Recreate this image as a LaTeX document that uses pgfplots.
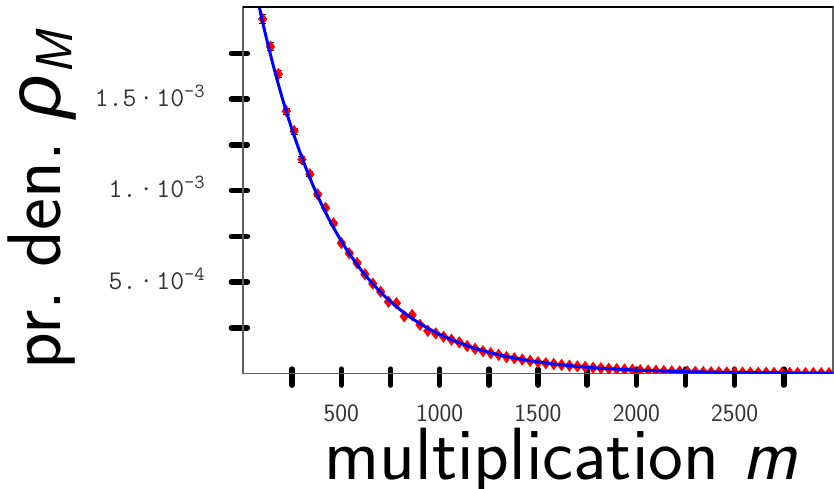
\documentclass[border=0pt]{standalone}
\usepackage{fontspec}
\newfontfamily\greekfont{Liberation Sans}
\usepackage{pgfplots}
\usepackage{pgfplotstable}
\pgfplotsset{compat=1.18}

% measured points (m, density)
\pgfplotstableread{
m rho
100 1.937e-3
140 1.786e-3
180 1.637e-3
220 1.434e-3
260 1.325e-3
300 1.170e-3
340 1.089e-3
380 0.979e-3
420 0.905e-3
460 0.821e-3
500 0.713e-3
540 0.657e-3
580 0.604e-3
620 0.543e-3
660 0.491e-3
700 0.447e-3
740 0.392e-3
780 0.384e-3
820 0.312e-3
860 0.320e-3
900 0.266e-3
940 0.233e-3
980 0.219e-3
1020 0.201e-3
1060 0.185e-3
1100 0.170e-3
1140 0.150e-3
1180 0.135e-3
1220 0.122e-3
1260 0.111e-3
1300 0.102e-3
1340 0.090e-3
1380 0.083e-3
1420 0.076e-3
1460 0.069e-3
1500 0.062e-3
1540 0.056e-3
1580 0.052e-3
1620 0.047e-3
1660 0.043e-3
1700 0.039e-3
1740 0.036e-3
1780 0.032e-3
1820 0.029e-3
1860 0.026e-3
1900 0.024e-3
1940 0.022e-3
1980 0.020e-3
2020 0.018e-3
2060 0.016e-3
2100 0.015e-3
2140 0.013e-3
2180 0.012e-3
2220 0.011e-3
2260 0.010e-3
2300 0.009e-3
2340 0.008e-3
2380 0.007e-3
2420 0.007e-3
2460 0.006e-3
2500 0.006e-3
2540 0.005e-3
2580 0.005e-3
2620 0.004e-3
2660 0.004e-3
2700 0.003e-3
2740 0.003e-3
2780 0.003e-3
2820 0.003e-3
2860 0.002e-3
2900 0.002e-3
2940 0.002e-3
2980 0.002e-3
}\points

% fitted curve
\pgfplotstableread{
m rho
50 2.1687e-3
100 1.9197e-3
150 1.6993e-3
200 1.5042e-3
250 1.3315e-3
300 1.1787e-3
350 1.0433e-3
400 0.9236e-3
450 0.8175e-3
500 0.7237e-3
550 0.6406e-3
600 0.5670e-3
650 0.5019e-3
700 0.4443e-3
750 0.3933e-3
800 0.3481e-3
850 0.3082e-3
900 0.2728e-3
950 0.2415e-3
1000 0.2137e-3
1100 0.1675e-3
1200 0.1312e-3
1300 0.1028e-3
1400 0.0806e-3
1500 0.0631e-3
1600 0.0495e-3
1700 0.0388e-3
1800 0.0304e-3
1900 0.0238e-3
2000 0.0186e-3
2200 0.0114e-3
2400 0.0070e-3
2600 0.0043e-3
2800 0.0026e-3
3000 0.0016e-3
}\fit

\newcommand{\sci}[2]{#1\hspace{3bp}·\hspace{3bp}10\raisebox{8.8bp}{\fontsize{20bp}{20bp}\selectfont #2}}

\begin{document}
\begin{tikzpicture}
\path[use as bounding box] (-243bp,-115.5bp) rectangle (591bp,373.5bp);
\begin{axis}[at={(0,0)},anchor=south west,scale only axis,width=590bp,height=366.5bp,
  xmin=0,xmax=3000,ymin=0,ymax=2.003e-3,
  axis line style={gray!75!black,line width=1.1bp},
  tick align=center,major tick length=16bp,
  every tick/.style={black,line width=5.5bp,line cap=round},
  xtick style={yshift=-3.6bp},ytick style={xshift=-3.6bp},
  xtick pos=lower,ytick pos=left,
  xtick={250,500,750,1000,1250,1500,1750,2000,2250,2500,2750},
  xticklabels={,500,,1000,,1500,,2000,,2500,},
  ytick={0.00025,0.0005,0.00075,0.001,0.00125,0.0015,0.00175},
  yticklabels={,\sci{5.}{-4},,\sci{1.}{-3},,\sci{1.5}{-3},},
  scaled y ticks=false,
  xticklabel style={font=\sffamily\fontsize{25bp}{25bp}\selectfont,anchor=base,inner sep=0pt,text=black!80},
  yticklabel style={font=\ttfamily\fontsize{27bp}{27bp}\selectfont,anchor=base east,inner sep=0pt,yshift=-7bp,text=black!80},
  xticklabel shift=39.5bp,yticklabel shift=30bp,
  xlabel={multiplication \textit{m}},
  ylabel={pr.~den.~{\greekfont\itshape ρ}\raisebox{-12bp}{\fontsize{52bp}{52bp}\selectfont\itshape M}},
  xlabel style={font=\sffamily\fontsize{74bp}{74bp}\selectfont,at={(axis description cs:0.1380,-0.2879)},anchor=base west,inner sep=0pt},
  ylabel style={font=\sffamily\fontsize{76bp}{76bp}\selectfont,at={(axis description cs:-0.3085,0.0095)},anchor=base west,inner sep=0pt},
  clip marker paths=true,
]
\addplot[only marks,mark=diamond*,mark size=5.8bp,mark options={fill=red,draw=red,line width=0.4bp},
  error bars/.cd,y dir=both,y fixed relative=0.012,
  error bar style={black,line width=0.8bp},
  error mark options={rotate=90,mark size=3.5bp,black,line width=0.8bp}]
  table[x=m,y=rho] {\points};
\addplot[blue,line width=3bp,smooth] table[x=m,y=rho] {\fit};
\draw[black,line width=1.3bp] (rel axis cs:0,1) -- (rel axis cs:1,1);
\end{axis}
\end{tikzpicture}
\end{document}
